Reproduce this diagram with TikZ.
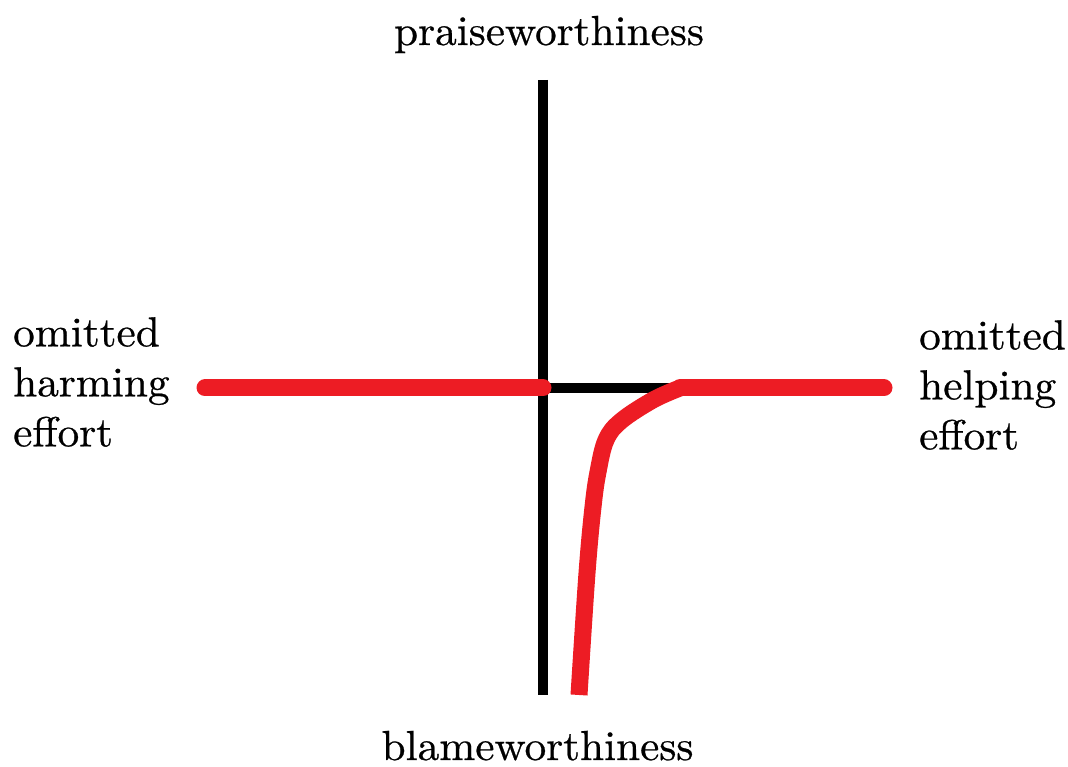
\documentclass[tikz,border=0pt]{standalone}
\usepackage{fontspec}
\setmainfont{lmroman10-regular}[Extension=.otf, FakeBold=0.6, FakeStretch=1.03]
\definecolor{paintred}{RGB}{237,28,36}
\tikzset{
  axis/.style={draw=black, line width=10pt},
  redline/.style={draw=paintred, line width=17pt, line cap=round},
  redcurve/.style={draw=paintred, line width=17pt, line cap=butt, line join=round},
  lbl/.style={inner sep=0pt, font=\fontsize{42}{50}\selectfont},
}
\begin{document}
\begin{tikzpicture}[x=1pt,y=1pt]
\useasboundingbox (0,0) rectangle (1068,767);
% coordinates
\coordinate (top) at (543,687);
\coordinate (bot) at (543,72);
\coordinate (o) at (543,379);
\coordinate (knee) at (680,379);
\coordinate (lend) at (205,379);
\coordinate (rend) at (884,379);
\coordinate (cend) at (579,72);
% axes
\draw[axis] (top) -- (bot);
\draw[axis] (o) -- (knee);
% red curve
\draw[redline] (lend) -- (o);
\draw[redline] (knee) -- (rend);
\draw[redcurve] plot[smooth, tension=0.6] coordinates {(680,379) (653,367) (621,346) (606,327) (598,295) (593,260) (587,194) (579,72)};
% labels
\node[lbl, anchor=base] (praise) at (549,722) {praiseworthiness};
\node[lbl, anchor=base] (blame) at (537.5,7) {blameworthiness};
\node[lbl, anchor=north west, align=left] (harm) at (13,450) {omitted\\harming\\effort};
\node[lbl, anchor=north west, align=left] (help) at (919,447) {omitted\\helping\\effort};
\end{tikzpicture}
\end{document}
